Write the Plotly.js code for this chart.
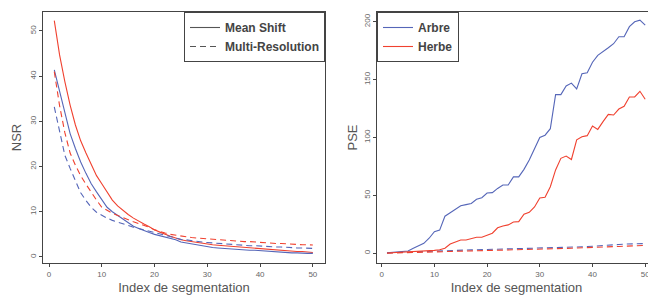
<!DOCTYPE html>
<html>
<head>
<meta charset="utf-8">
<script src="https://cdn.plot.ly/plotly-3.0.1.min.js"></script>
<style>
html,body{margin:0;padding:0;background:#fff;overflow:hidden;width:648px;height:296px;}
#chart{width:660px;height:296px;}
</style>
</head>
<body>
<div id="chart"></div>
<script>
// Segmentation index 1..50
const segIndex = Array.from({length: 50}, (_, i) => i + 1);

// NSR (left panel)
const nsrArbreMeanShift = [41.4, 36.5, 31.5, 27.3, 24.0, 21.0, 18.5, 16.2, 14.4, 12.7, 11.0, 10.0, 9.2, 8.4, 7.6, 6.8, 6.3, 5.8, 5.4, 5.0, 4.7, 4.3, 4.0, 3.8, 3.3, 3.1, 2.8, 2.6, 2.4, 2.2, 2.1, 2.0, 1.9, 1.8, 1.7, 1.6, 1.6, 1.5, 1.5, 1.4, 1.3, 1.3, 1.2, 1.1, 1.0, 0.9, 0.9, 0.8, 0.8, 0.8];
const nsrHerbeMeanShift = [52.3, 44.7, 38.8, 33.6, 29.2, 25.7, 23.0, 20.6, 18.0, 16.2, 14.3, 12.6, 11.3, 10.3, 9.4, 8.6, 7.9, 7.3, 6.7, 6.0, 5.5, 5.0, 4.6, 4.2, 3.8, 3.6, 3.4, 3.2, 3.0, 2.8, 2.7, 2.6, 2.5, 2.4, 2.3, 2.2, 2.1, 2.0, 1.9, 1.85, 1.8, 1.7, 1.6, 1.5, 1.4, 1.3, 1.2, 1.2, 1.1, 1.0];
const nsrArbreMultiRes = [33.2, 27.5, 22.5, 19.6, 16.8, 14.2, 12.5, 11.0, 9.9, 9.2, 8.6, 8.1, 7.7, 7.3, 7.0, 6.6, 6.3, 6.0, 5.7, 5.4, 5.0, 4.7, 4.4, 4.1, 3.9, 3.8, 3.6, 3.5, 3.3, 3.2, 3.1, 3.0, 3.0, 2.9, 2.8, 2.7, 2.6, 2.5, 2.5, 2.4, 2.3, 2.3, 2.2, 2.2, 2.1, 2.0, 2.0, 2.0, 1.9, 1.9];
const nsrHerbeMultiRes = [41.0, 33.5, 27.5, 23.0, 20.3, 18.0, 16.1, 14.2, 12.6, 11.0, 10.3, 9.7, 9.2, 8.7, 8.3, 7.8, 7.4, 7.0, 6.6, 6.0, 5.6, 5.3, 5.0, 4.8, 4.6, 4.4, 4.3, 4.2, 4.1, 4.0, 3.9, 3.8, 3.8, 3.7, 3.6, 3.5, 3.4, 3.4, 3.3, 3.2, 3.1, 3.1, 3.0, 3.0, 2.9, 2.8, 2.8, 2.7, 2.7, 2.65];

// PSE (right panel)
const pseArbreMeanShift = [0.5, 0.8, 1.2, 1.6, 2.0, 4.3, 6.3, 8.6, 13, 18.7, 20, 32, 35, 38, 41, 42, 43, 46.6, 48, 52, 52.4, 56, 59, 59, 66, 66, 72.5, 80.6, 90, 100, 102, 107.6, 137, 137, 144.5, 147, 142, 155, 156, 165, 171, 174, 177.5, 181, 187, 187, 195.7, 200, 201.4, 197];
const pseHerbeMeanShift = [0.3, 0.5, 0.6, 0.8, 1.0, 1.3, 1.6, 2.0, 2.2, 2.5, 3.0, 4.3, 8, 9.5, 11.5, 11.5, 12.7, 13.8, 13.8, 15.5, 17.3, 22, 23.6, 24.5, 27, 27.3, 33.7, 35.4, 40, 47.8, 48.3, 57.5, 72, 82, 84, 81, 98, 100.7, 101.6, 110, 107, 113.7, 120, 119.4, 124.6, 127, 135, 135, 139.9, 133];
const pseArbreMultiRes = [0.3, 0.5, 0.8, 1.0, 1.2, 1.4, 1.6, 1.8, 1.9, 2.0, 2.1, 2.3, 2.4, 2.5, 2.7, 2.8, 2.9, 3.0, 3.1, 3.2, 3.3, 3.4, 3.5, 3.6, 3.7, 3.8, 3.9, 4.0, 4.2, 4.4, 4.5, 4.7, 4.9, 5.0, 5.2, 5.3, 5.5, 5.6, 5.8, 6.0, 6.2, 6.4, 6.7, 7.2, 7.6, 7.9, 8.1, 8.2, 8.3, 8.4];
const pseHerbeMultiRes = [0.1, 0.2, 0.3, 0.4, 0.5, 0.6, 0.7, 0.8, 0.9, 1.0, 1.1, 1.3, 1.5, 1.7, 1.9, 2.0, 2.1, 2.3, 2.4, 2.5, 2.6, 2.7, 2.8, 2.9, 3.0, 3.1, 3.2, 3.3, 3.5, 3.7, 3.8, 3.9, 4.0, 4.1, 4.2, 4.4, 4.5, 4.6, 4.8, 5.0, 5.1, 5.3, 5.5, 5.7, 5.9, 6.1, 6.3, 6.5, 6.6, 6.8];

// Tick labels
const xTicks = [0, 10, 20, 30, 40, 50];
const nsrTicks = [0, 10, 20, 30, 40, 50];
const pseTicks = [0, 50, 100, 150, 200];

const BLUE = '#5566b8';
const RED = '#f0412f';
const GREY = '#555555';
const DASH = '6px,4px';
const FONT = 'Liberation Sans, Arial, sans-serif';

const W = 660, H = 296;
const px = v => v / W;
const py = v => 1 - v / H;

function line(x, y, color, dash, xa, ya, extra) {
  return Object.assign({
    type: 'scatter', mode: 'lines', x: x, y: y,
    xaxis: xa, yaxis: ya,
    line: {color: color, width: 1.1, dash: dash},
    showlegend: false, hoverinfo: 'skip'
  }, extra || {});
}

const traces = [
  line(segIndex, nsrHerbeMeanShift, RED, 'solid', 'x', 'y'),
  line(segIndex, nsrArbreMeanShift, BLUE, 'solid', 'x', 'y'),
  line(segIndex, nsrHerbeMultiRes, RED, DASH, 'x', 'y'),
  line(segIndex, nsrArbreMultiRes, BLUE, DASH, 'x', 'y'),
  line(segIndex, pseArbreMultiRes, BLUE, DASH, 'x2', 'y2'),
  line(segIndex, pseHerbeMultiRes, RED, DASH, 'x2', 'y2'),
  line(segIndex, pseArbreMeanShift, BLUE, 'solid', 'x2', 'y2', {name: 'Arbre', showlegend: true, legend: 'legend2', legendrank: 1}),
  line(segIndex, pseHerbeMeanShift, RED, 'solid', 'x2', 'y2', {name: 'Herbe', showlegend: true, legend: 'legend2', legendrank: 2}),
  // legend keys for method (left panel)
  line([null], [null], GREY, 'solid', 'x', 'y', {name: 'Mean Shift', showlegend: true, legend: 'legend', legendrank: 1}),
  line([null], [null], GREY, DASH, 'x', 'y', {name: 'Multi-Resolution', showlegend: true, legend: 'legend', legendrank: 2})
];

function axisBase(extra) {
  return Object.assign({
    showline: true, mirror: true, linecolor: '#444', linewidth: 1,
    ticks: 'outside', ticklen: 3, tickcolor: '#444', tickwidth: 1,
    tickfont: {family: FONT, size: 8, color: '#666'},
    showgrid: false, zeroline: false,
    tickmode: 'array'
  }, extra);
}

const xTitle = {text: 'Index de segmentation', font: {family: FONT, size: 13, color: '#555'}, standoff: 5};

const legendCommon = {
  bgcolor: '#ffffff', bordercolor: '#444', borderwidth: 1,
  font: {family: FONT, size: 12, color: '#444', weight: 'bold'},
  yanchor: 'top', y: py(12), traceorder: 'normal', itemwidth: 30,
  tracegroupgap: 0
};

const layout = {
  width: W, height: H,
  margin: {l: 0, r: 0, t: 0, b: 0},
  paper_bgcolor: '#ffffff', plot_bgcolor: '#ffffff',
  font: {family: FONT},
  xaxis: axisBase({domain: [px(43), px(325)], range: [-1.14, 52.3], tickvals: xTicks, ticktext: xTicks.map(String), anchor: 'y', title: xTitle}),
  yaxis: axisBase({domain: [py(263), py(12)], range: [-1.33, 54.2], tickvals: nsrTicks, ticktext: nsrTicks.map(String), tickangle: -90, anchor: 'x',
    title: {text: 'NSR', font: {family: FONT, size: 13, color: '#555'}, standoff: 4}}),
  xaxis2: axisBase({domain: [px(377), px(656)], range: [-0.89, 52.05], tickvals: xTicks, ticktext: xTicks.map(String), anchor: 'y2', title: xTitle}),
  yaxis2: axisBase({domain: [py(263), py(12)], range: [-8.4, 208.4], tickvals: pseTicks, ticktext: pseTicks.map(String), tickangle: -90, anchor: 'x2',
    title: {text: 'PSE', font: {family: FONT, size: 13, color: '#555'}, standoff: 2}}),
  legend: Object.assign({}, legendCommon, {xanchor: 'right', x: px(325)}),
  legend2: Object.assign({}, legendCommon, {xanchor: 'left', x: px(377)})
};

Plotly.newPlot('chart', traces, layout, {displayModeBar: false, staticPlot: true});
</script>
</body>
</html>
